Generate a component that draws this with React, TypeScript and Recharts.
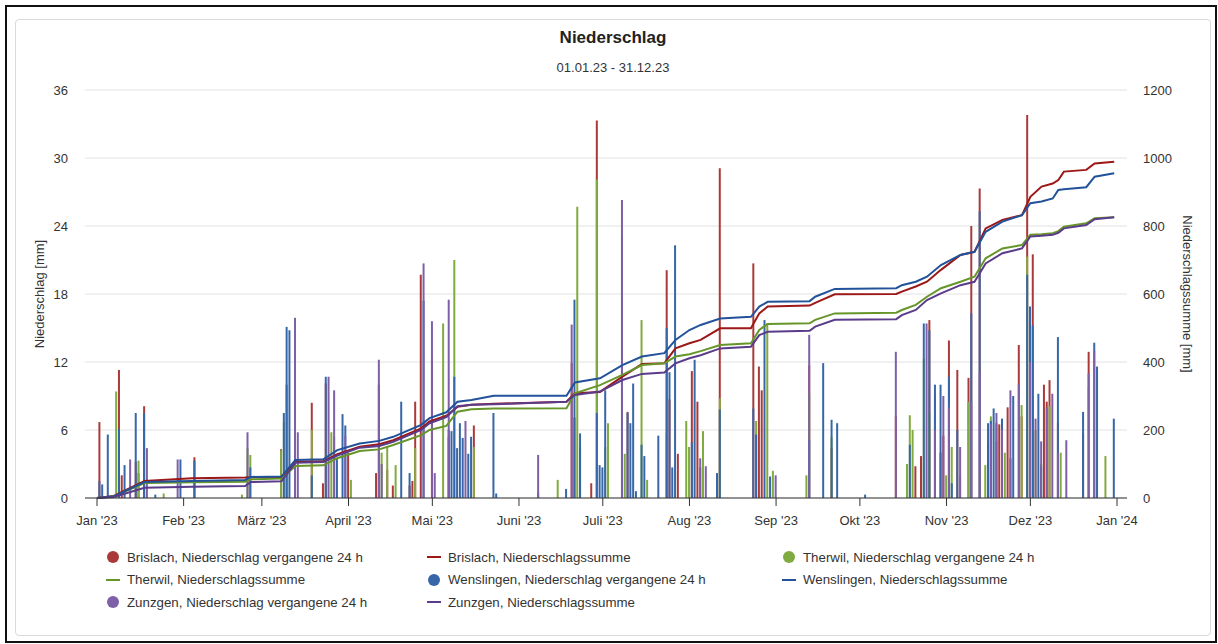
import { ComposedChart, Bar, Line, XAxis, YAxis, CartesianGrid } from 'recharts';

// month ticks (day of year 2023)
const monthStarts = [0, 31, 59, 90, 120, 151, 181, 212, 243, 273, 304, 334, 365];
const monthLabels = ["Jan '23", "Feb '23", "März '23", "April '23", "Mai '23", "Juni '23", "Juli '23", "Aug '23", "Sep '23", "Okt '23", "Nov '23", "Dez '23", "Jan '24"];
const leftTicks = [0, 6, 12, 18, 24, 30, 36];
const rightTicks = [0, 200, 400, 600, 800, 1000, 1200];

// Niederschlag vergangene 24 h [day, mm]
const brislachRain: [number, number][] = [
  [1, 6.7], [8, 11.3], [9, 2.0], [14, 3.2], [15, 2.2], [17, 8.1], [35, 3.6], [66, 4.3], [68, 10.0], [71, 9.5],
  [77, 8.4], [81, 1.3], [82, 10.1], [90, 4.0], [100, 2.2], [101, 10.0], [104, 2.5], [106, 1.1], [112, 1.1], [113, 1.5],
  [114, 8.5], [116, 19.7], [120, 12.3], [126, 5.4], [135, 6.4], [170, 11.9], [171, 7.1], [173, 4.5], [177, 1.3], [179, 33.3],
  [190, 7.6], [204, 20.1], [205, 8.7], [208, 3.9], [213, 11.2], [215, 8.5], [216, 2.7], [223, 29.1], [235, 20.7], [237, 11.6],
  [238, 9.5], [255, 11.7], [263, 4.4], [286, 7.2], [293, 2.8], [295, 3.7], [298, 15.7], [300, 9.0], [302, 4.0], [303, 5.5],
  [305, 13.9], [308, 11.3], [312, 10.6], [313, 24.0], [316, 27.3], [319, 5.0], [323, 6.5], [326, 8.0], [330, 13.5], [331, 7.2],
  [333, 33.8], [334, 8.2], [335, 21.5], [339, 10.0], [340, 8.5], [341, 10.4], [344, 6.6], [353, 5.7], [355, 12.9],
];
const therwilRain: [number, number][] = [
  [7, 9.4], [15, 3.3], [24, 0.4], [52, 0.3], [54, 4.4], [55, 3.8], [66, 4.2], [67, 6.7], [77, 6.0], [84, 5.8],
  [85, 5.4], [91, 1.6], [102, 4.0], [104, 4.5], [107, 2.9], [114, 4.4], [124, 15.4], [128, 21.0], [135, 4.5], [165, 1.6],
  [172, 25.7], [179, 28.1], [182, 4.5], [183, 6.6], [189, 3.9], [195, 15.7], [197, 1.6], [204, 5.7], [211, 6.8], [212, 4.5],
  [217, 5.9], [223, 8.8], [236, 6.8], [240, 15.4], [242, 2.4], [254, 2.0], [255, 9.2], [263, 5.4], [290, 3.0], [291, 7.3],
  [292, 6.0], [296, 12.3], [298, 7.5], [300, 6.8], [304, 2.0], [306, 4.5], [309, 2.0], [312, 8.5], [318, 2.9], [320, 7.2],
  [322, 5.0], [325, 4.0], [331, 8.2], [333, 21.3], [336, 6.0], [338, 3.0], [341, 8.1], [345, 4.0], [355, 9.8], [361, 3.7],
];
const wenslingenRain: [number, number][] = [
  [1, 1.5], [2, 1.2], [4, 5.6], [8, 6.1], [10, 2.9], [14, 7.5], [17, 7.5], [21, 0.3], [30, 3.4], [35, 3.3],
  [55, 2.7], [67, 7.5], [68, 15.1], [69, 14.8], [77, 2.0], [82, 10.7], [86, 3.5], [88, 7.4], [89, 6.4], [109, 8.5],
  [112, 2.2], [117, 17.4], [126, 6.0], [127, 5.9], [128, 10.7], [129, 4.4], [130, 6.6], [131, 5.3], [133, 3.9], [134, 5.4],
  [142, 7.5], [143, 0.4], [158, 0.4], [168, 0.8], [171, 17.5], [173, 5.7], [179, 7.5], [180, 2.9], [181, 2.7], [182, 9.5],
  [188, 23.2], [190, 7.5], [191, 6.6], [192, 10.1], [193, 0.6], [195, 4.7], [196, 3.7], [201, 5.5], [204, 15.0], [205, 11.1],
  [206, 2.7], [207, 22.3], [213, 4.9], [214, 12.2], [222, 2.2], [223, 7.8], [235, 7.9], [236, 5.6], [239, 15.7], [241, 1.9],
  [255, 5.1], [260, 11.9], [263, 6.9], [265, 6.6], [275, 0.3], [291, 4.7], [296, 15.4], [298, 14.8], [300, 10.0], [302, 10.0],
  [305, 10.7], [306, 1.3], [308, 6.0], [313, 16.3], [316, 25.3], [319, 6.6], [320, 6.8], [321, 7.9], [322, 6.6], [324, 7.0],
  [327, 3.5], [328, 9.0], [333, 19.7], [334, 16.9], [335, 15.2], [337, 9.2], [338, 2.8], [344, 14.2], [353, 7.6], [357, 13.7],
  [358, 11.6], [364, 7.0],
];
const zunzgenRain: [number, number][] = [
  [12, 3.4], [18, 4.4], [29, 3.4], [54, 5.8], [71, 15.9], [72, 5.8], [83, 10.7], [85, 9.5], [89, 5.5], [101, 12.2],
  [102, 3.0], [117, 20.7], [120, 15.6], [121, 2.2], [126, 17.5], [132, 6.8], [158, 3.8], [170, 15.3], [188, 26.3], [216, 3.5],
  [218, 2.8], [243, 2.0], [255, 14.4], [286, 12.9], [297, 15.4], [300, 6.0], [303, 9.0], [305, 8.0], [309, 4.5], [313, 8.5],
  [316, 11.0], [320, 6.5], [322, 7.5], [324, 6.0], [327, 9.5], [330, 10.0], [334, 12.0], [336, 7.0], [338, 5.0], [340, 8.0],
  [342, 9.2], [344, 4.0], [347, 5.1], [355, 11.0], [357, 13.0],
];

// Niederschlagssumme [mm] at knot days
const sumDays = [0, 6, 17, 34, 53, 55, 66, 71, 81, 86, 94, 101, 106, 116, 119, 125, 129, 134, 142, 168, 171, 180, 188, 195, 203, 207, 212, 216, 223, 234, 237, 240, 255, 257, 264, 286, 288, 293, 297, 302, 309, 314, 318, 324, 331, 334, 338, 342, 344, 346, 354, 357, 364];
const brislachSum = [0, 6, 50, 58, 60, 61, 62, 107, 108, 129, 151, 158, 170, 205, 225, 242, 268, 274, 277, 283, 308, 312, 357, 394, 396, 440, 455, 465, 499, 499, 543, 563, 566, 574, 599, 600, 607, 622, 636, 671, 715, 724, 793, 818, 832, 886, 916, 925, 935, 960, 965, 984, 989];
const therwilSum = [0, 5, 44, 46, 48, 55, 57, 94, 96, 117, 138, 143, 156, 185, 200, 212, 254, 261, 263, 264, 308, 332, 362, 391, 396, 416, 423, 432, 450, 455, 494, 512, 514, 524, 543, 545, 553, 568, 592, 617, 636, 651, 705, 734, 744, 774, 776, 779, 785, 798, 808, 823, 826];
const wenslingenSum = [0, 5, 47, 50, 53, 62, 63, 112, 114, 141, 160, 168, 180, 215, 235, 252, 283, 288, 301, 301, 340, 352, 391, 416, 426, 465, 494, 509, 528, 533, 563, 577, 579, 592, 615, 617, 626, 636, 651, 685, 715, 724, 783, 813, 832, 867, 872, 881, 906, 908, 914, 945, 955];
const zunzgenSum = [0, 3, 30, 33, 35, 47, 49, 104, 106, 125, 148, 153, 165, 200, 220, 238, 270, 274, 276, 283, 303, 313, 347, 365, 369, 396, 411, 420, 440, 445, 479, 489, 492, 504, 524, 526, 538, 553, 582, 602, 626, 636, 690, 720, 734, 769, 771, 774, 780, 793, 803, 820, 826];

const stations = [
  { key: 'brislach', name: 'Brislach', bar: '#aa3a3a', line: '#9c1717', rain: brislachRain, sum: brislachSum },
  { key: 'therwil', name: 'Therwil', bar: '#80ab40', line: '#66962a', rain: therwilRain, sum: therwilSum },
  { key: 'wenslingen', name: 'Wenslingen', bar: '#3767a8', line: '#22529a', rain: wenslingenRain, sum: wenslingenSum },
  { key: 'zunzgen', name: 'Zunzgen', bar: '#7d60a8', line: '#5a3c8a', rain: zunzgenRain, sum: zunzgenSum },
];

const rowMap = new Map<number, Record<string, number>>();
const put = (day: number, key: string, v: number) => {
  const r = rowMap.get(day) ?? { day };
  r[key] = v;
  rowMap.set(day, r);
};
stations.forEach((s) => {
  s.rain.forEach(([d, v]) => put(d, s.key, v));
  sumDays.forEach((d, i) => put(d, s.key + 'Sum', s.sum[i]));
});
const table = [...rowMap.values()].sort((a, b) => a.day - b.day);

const legendItems = stations.flatMap((s) => [
  { label: `${s.name}, Niederschlag vergangene 24 h`, color: s.bar, kind: 'dot' },
  { label: `${s.name}, Niederschlagssumme`, color: s.line, kind: 'line' },
]);
const legendCols = [106, 427, 782];
const legendRows = [557, 579.5, 602];

const font = '"Liberation Sans", Arial, Helvetica, sans-serif';
const tickStyle = { fontSize: 13, fill: '#333' };

export default function App() {
  return (
    <div style={{ position: 'absolute', left: 0, top: 0, width: 1218, height: 644, background: '#fff', fontFamily: font, color: '#333' }}>
      <div style={{ position: 'absolute', left: 5, top: 5, width: 1212, height: 638, border: '2px solid #111', boxSizing: 'border-box' }} />
      <div style={{ position: 'absolute', left: 15, top: 19, width: 1196, height: 617, border: '1px solid #d9d9d9', borderRadius: 4, boxSizing: 'border-box' }} />

      <div style={{ position: 'absolute', left: 15, width: 1196, top: 28, lineHeight: '20px', textAlign: 'center', fontSize: 17, fontWeight: 'bold', color: '#222' }}>
        Niederschlag
      </div>
      <div style={{ position: 'absolute', left: 15, width: 1196, top: 60, lineHeight: '16px', textAlign: 'center', fontSize: 13, color: '#333' }}>
        01.01.23 - 31.12.23
      </div>

      <div style={{ position: 'absolute', left: 0, top: 0 }}>
        <ComposedChart width={1218} height={540} data={table} margin={{ top: 90, right: 21, bottom: 12, left: 15 }} barGap={-2}>
          <CartesianGrid yAxisId="left" vertical={false} stroke="#e2e2e2" />
          <XAxis
            dataKey="day"
            type="number"
            domain={[0, 365]}
            ticks={monthStarts}
            tickFormatter={(d: number) => monthLabels[monthStarts.indexOf(d)]}
            padding={{ left: 12, right: 10 }}
            height={30}
            tickSize={8}
            tickMargin={10}
            tick={tickStyle}
            axisLine={{ stroke: '#333' }}
            tickLine={{ stroke: '#333' }}
            interval={0}
          />
          <YAxis
            yAxisId="left"
            domain={[0, 36]}
            ticks={leftTicks}
            width={70}
            tickLine={false}
            axisLine={false}
            tickMargin={11}
            tick={tickStyle}
            label={{ value: 'Niederschlag [mm]', angle: -90, position: 'insideLeft', offset: 24, style: { textAnchor: 'middle', fill: '#333', fontSize: 13 } }}
          />
          <YAxis
            yAxisId="right"
            orientation="right"
            domain={[0, 1200]}
            ticks={rightTicks}
            width={70}
            tickLine={false}
            axisLine={false}
            tickMargin={10}
            tick={tickStyle}
            label={{ value: 'Niederschlagssumme [mm]', angle: 90, position: 'insideRight', offset: 9, style: { textAnchor: 'middle', fill: '#333', fontSize: 13 } }}
          />
          {stations.map((s) => (
            <Bar key={s.key} yAxisId="left" dataKey={s.key} fill={s.bar} barSize={2} isAnimationActive={false} />
          ))}
          {stations.map((s) => (
            <Line
              key={s.key + 'Sum'}
              yAxisId="right"
              type="linear"
              dataKey={s.key + 'Sum'}
              stroke={s.line}
              strokeWidth={2}
              dot={false}
              connectNulls
              isAnimationActive={false}
            />
          ))}
        </ComposedChart>
      </div>

      {legendItems.map((item, i) => (
        <div
          key={item.label}
          style={{
            position: 'absolute',
            left: legendCols[i % 3],
            top: legendRows[Math.floor(i / 3)] - 9,
            height: 18,
            display: 'flex',
            alignItems: 'center',
            fontSize: 13.3,
            color: '#333',
            whiteSpace: 'nowrap',
          }}
        >
          <span style={{ width: 14, height: 14, display: 'flex', alignItems: 'center', justifyContent: 'center', marginRight: 7 }}>
            {item.kind === 'dot' ? (
              <span style={{ width: 12, height: 12, borderRadius: '50%', background: item.color, display: 'block' }} />
            ) : (
              <span style={{ width: 14, height: 2, background: item.color, display: 'block' }} />
            )}
          </span>
          {item.label}
        </div>
      ))}
    </div>
  );
}
